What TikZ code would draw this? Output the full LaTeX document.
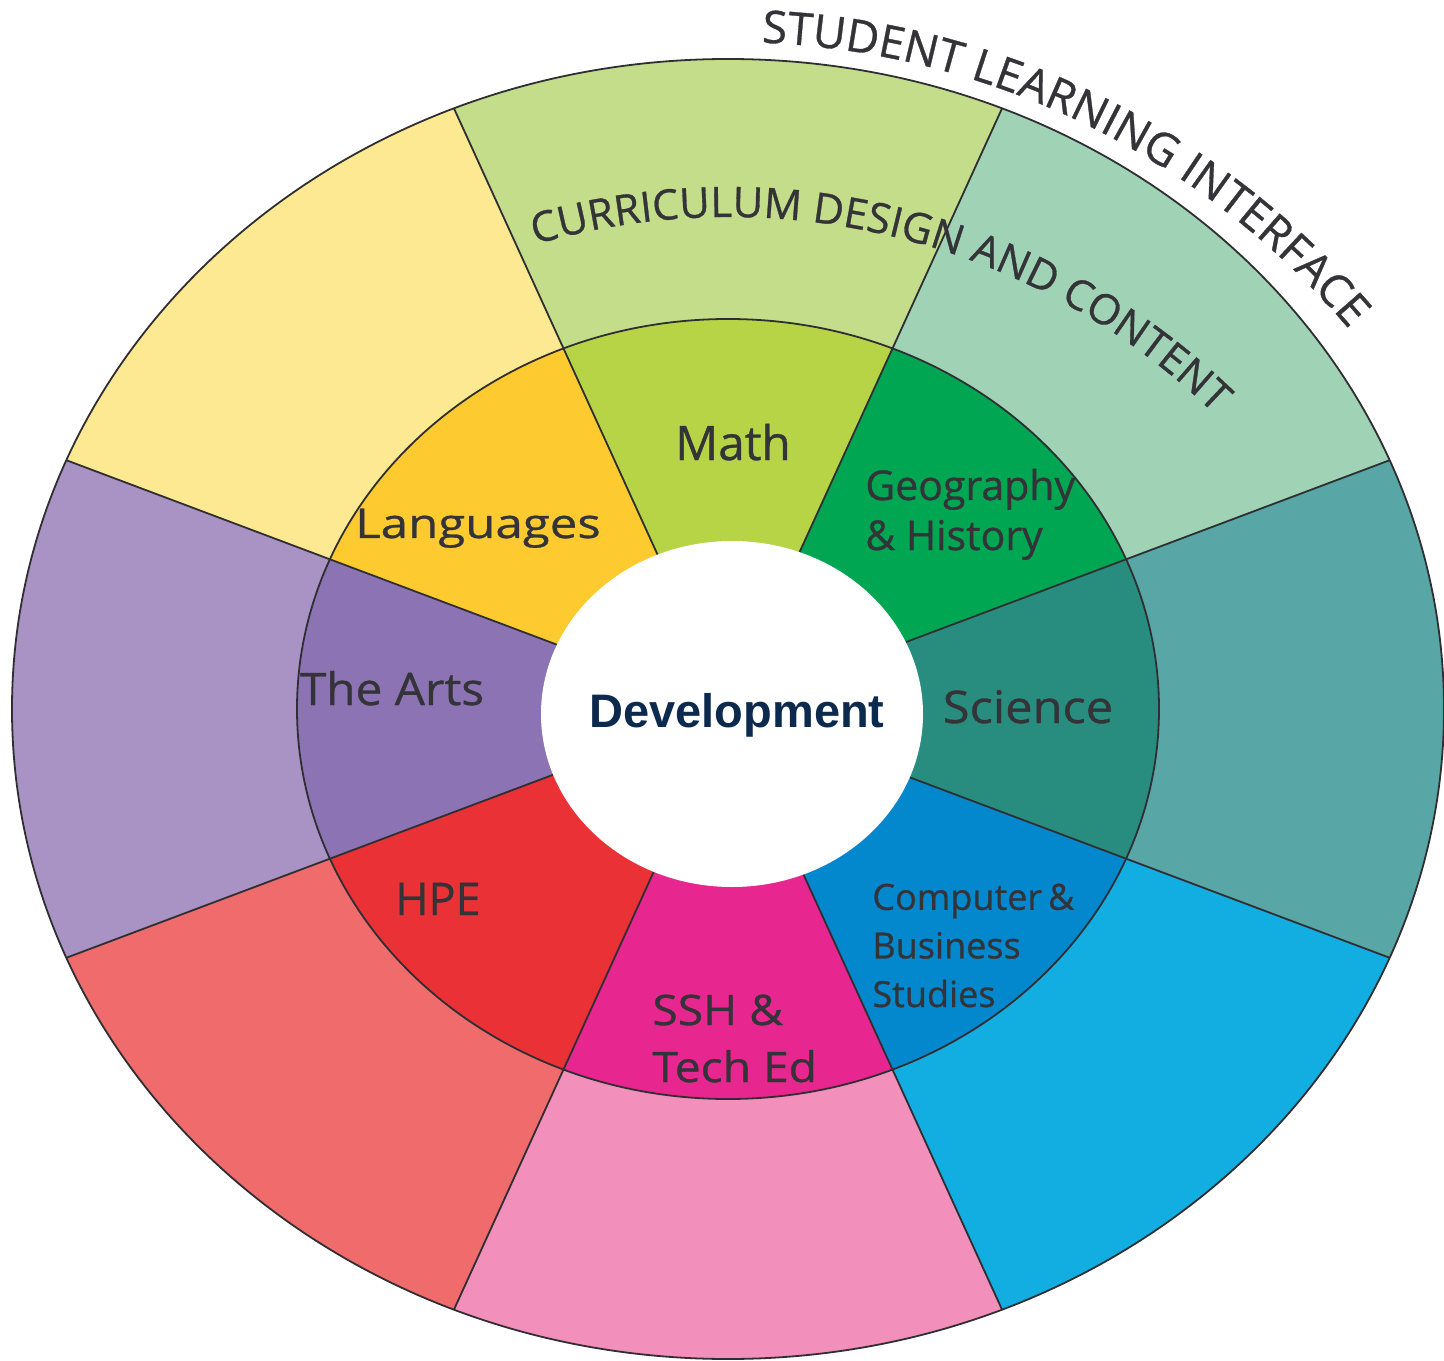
\documentclass[tikz,border=0pt]{standalone}
\usepackage{fontspec}
\setmainfont{Open Sans}[RawFeature={embolden=0.7}]
\newfontfamily\devfont{Liberation Sans}
\usepackage{xcolor}
\usepackage{tikz}
\usetikzlibrary{decorations.text}

% outer ring
\definecolor{outerlime}{HTML}{C3DD8A}
\definecolor{outermint}{HTML}{A0D2B6}
\definecolor{outerteal}{HTML}{58A6A6}
\definecolor{outersky}{HTML}{12AEE2}
\definecolor{outerpink}{HTML}{F28FBA}
\definecolor{outersalmon}{HTML}{F06B6C}
\definecolor{outerlilac}{HTML}{A992C4}
\definecolor{outercream}{HTML}{FDE992}
% middle ring
\definecolor{mathgreen}{HTML}{B6D445}
\definecolor{geogreen}{HTML}{00A651}
\definecolor{scienceteal}{HTML}{288D7E}
\definecolor{compblue}{HTML}{0388CE}
\definecolor{sshpink}{HTML}{E7268F}
\definecolor{hpered}{HTML}{E93136}
\definecolor{artspurple}{HTML}{8C73B4}
\definecolor{langyellow}{HTML}{FDCB2F}
% lines and text
\definecolor{linegray}{HTML}{2F2F33}
\definecolor{labelgray}{HTML}{333338}
\definecolor{devblue}{HTML}{0C2A4E}

\begin{document}
\begin{tikzpicture}[x=0.5pt, y=0.5pt]

    % Define style for rings and labels
    \tikzstyle{edge} = [draw=linegray, line width=0.9pt]
    \tikzstyle{subject} = [text=labelgray, inner sep=0pt, align=left]
    \tikzstyle{core} = [font=\devfont\bfseries\fontsize{23.5}{28}\selectfont, text=devblue, inner sep=0pt]

    \useasboundingbox (-728,-651) rectangle (716,709);

    % Outer ring
    \fill[outerlime] (0,0) -- (67.5:716 and 650) arc[start angle=67.5, end angle=112.5, x radius=716, y radius=650] -- cycle;
    \fill[outermint] (0,0) -- (22.5:716 and 650) arc[start angle=22.5, end angle=67.5, x radius=716, y radius=650] -- cycle;
    \fill[outerteal] (0,0) -- (-22.5:716 and 650) arc[start angle=-22.5, end angle=22.5, x radius=716, y radius=650] -- cycle;
    \fill[outersky] (0,0) -- (-67.5:716 and 650) arc[start angle=-67.5, end angle=-22.5, x radius=716, y radius=650] -- cycle;
    \fill[outerpink] (0,0) -- (-112.5:716 and 650) arc[start angle=-112.5, end angle=-67.5, x radius=716, y radius=650] -- cycle;
    \fill[outersalmon] (0,0) -- (202.5:716 and 650) arc[start angle=202.5, end angle=247.5, x radius=716, y radius=650] -- cycle;
    \fill[outerlilac] (0,0) -- (157.5:716 and 650) arc[start angle=157.5, end angle=202.5, x radius=716, y radius=650] -- cycle;
    \fill[outercream] (0,0) -- (112.5:716 and 650) arc[start angle=112.5, end angle=157.5, x radius=716, y radius=650] -- cycle;

    % Middle ring
    \fill[mathgreen] (0,0) -- (67.5:431 and 390) arc[start angle=67.5, end angle=112.5, x radius=431, y radius=390] -- cycle;
    \fill[geogreen] (0,0) -- (22.5:431 and 390) arc[start angle=22.5, end angle=67.5, x radius=431, y radius=390] -- cycle;
    \fill[scienceteal] (0,0) -- (-22.5:431 and 390) arc[start angle=-22.5, end angle=22.5, x radius=431, y radius=390] -- cycle;
    \fill[compblue] (0,0) -- (-67.5:431 and 390) arc[start angle=-67.5, end angle=-22.5, x radius=431, y radius=390] -- cycle;
    \fill[sshpink] (0,0) -- (-112.5:431 and 390) arc[start angle=-112.5, end angle=-67.5, x radius=431, y radius=390] -- cycle;
    \fill[hpered] (0,0) -- (202.5:431 and 390) arc[start angle=202.5, end angle=247.5, x radius=431, y radius=390] -- cycle;
    \fill[artspurple] (0,0) -- (157.5:431 and 390) arc[start angle=157.5, end angle=202.5, x radius=431, y radius=390] -- cycle;
    \fill[langyellow] (0,0) -- (112.5:431 and 390) arc[start angle=112.5, end angle=157.5, x radius=431, y radius=390] -- cycle;

    % Lines
    \draw[edge] (0,0) -- (22.5:716 and 650);
    \draw[edge] (0,0) -- (67.5:716 and 650);
    \draw[edge] (0,0) -- (112.5:716 and 650);
    \draw[edge] (0,0) -- (157.5:716 and 650);
    \draw[edge] (0,0) -- (202.5:716 and 650);
    \draw[edge] (0,0) -- (247.5:716 and 650);
    \draw[edge] (0,0) -- (292.5:716 and 650);
    \draw[edge] (0,0) -- (337.5:716 and 650);
    \draw[edge] (0,0) ellipse[x radius=716, y radius=650];
    \draw[edge] (0,0) ellipse[x radius=431, y radius=390];

    % Centre
    \fill[white] (4,-5) ellipse[x radius=191, y radius=173];

    % Nodes
    \node (development) [core, anchor=base] at (9,-18) {Development};
    \node (math) [subject, anchor=base, font=\fontsize{23.8}{28}\selectfont] at (5,249) {Math};
    \node (geography) [subject, anchor=base west, font=\fontsize{20.5}{25}\selectfont] at (137,159) {Geography\\\& History};
    \node (science) [subject, anchor=base, xscale=1.085, font=\fontsize{22.5}{27}\selectfont] at (300,-14) {Science};
    \node (computer) [subject, anchor=base west, font=\fontsize{18}{24.3}\selectfont] at (144,-298) {Computer\,\&\\Business\\Studies};
    \node (sshtech) [subject, anchor=base west, xscale=1.1, font=\fontsize{21}{28.5}\selectfont] at (-76,-373) {SSH \&\\Tech Ed};
    \node (hpe) [subject, anchor=base, font=\fontsize{22.5}{27}\selectfont] at (-290,-206) {HPE};
    \node (arts) [subject, anchor=base, xscale=1.066, font=\fontsize{22.4}{27}\selectfont] at (-336,4) {The Arts};
    \node (languages) [subject, anchor=base, xscale=1.2, font=\fontsize{20.5}{25}\selectfont] at (-250,171) {Languages};

    % Curved titles
    \path[decorate, decoration={text along path, text align=center, text color=labelgray,
        text={|\fontsize{21}{26}\selectfont|CURRICULUM DESIGN AND CONTENT}}]
        (1,-204) ++(116:696) arc[start angle=116, end angle=36, radius=696];
    \path[decorate, decoration={text along path, text align=center, text color=labelgray,
        text={|\fontsize{22.6}{27}\selectfont|STUDENT LEARNING INTERFACE}}]
        (1,-146) ++(100:813) arc[start angle=100, end angle=28, radius=813];

\end{tikzpicture}
\end{document}
